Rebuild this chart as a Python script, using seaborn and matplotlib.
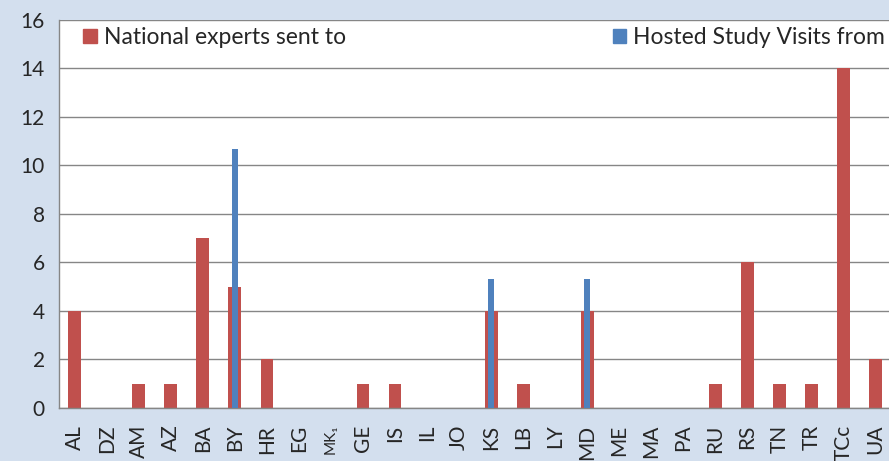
import matplotlib
matplotlib.use("Agg")
import matplotlib.pyplot as plt
import numpy as np
import pandas as pd
import seaborn as sns
from matplotlib.patches import Patch

# ---------------------------------------------------------------------------
# 데이터
# ---------------------------------------------------------------------------

countries = ["AL", "DZ", "AM", "AZ", "BA", "BY", "HR", "EG", "MK\u2081", "GE",
             "IS", "IL", "JO", "KS", "LB", "LY", "MD", "ME", "MA", "PA",
             "RU", "RS", "TN", "TR", "TCc", "UA"]
experts_sent = [4, 0, 1, 1, 7, 5, 2, 0, 0, 1,
                1, 0, 0, 4, 1, 0, 4, 0, 0, 0,
                1, 6, 1, 1, 14, 2]
visits_hosted = [0, 0, 0, 0, 0, 10.67, 0, 0, 0, 0,
                 0, 0, 0, 5.33, 0, 0, 5.33, 0, 0, 0,
                 0, 0, 0, 0, 0, 0]

RED = "#C0504D"
BLUE = "#4F81BD"
BG = "#D3DFEE"
GRID = "#868686"
FS = 15
LEG_FS = 16.5

df = pd.DataFrame({"country": countries, "experts": experts_sent, "visits": visits_hosted})

sns.set_style("white")
plt.rcParams["font.family"] = ["Lato", "DejaVu Sans"]

fig = plt.figure(figsize=(8.89, 4.61), dpi=100, facecolor=BG)
ax = fig.add_axes([0.066, 0.115, 0.937, 0.842])
ax.set_facecolor("white")

sns.barplot(data=df, x="country", y="experts", color=RED, width=0.4,
            saturation=1, linewidth=0, ax=ax, zorder=2)
sns.barplot(data=df, x="country", y="visits", color=BLUE, width=0.19,
            saturation=1, linewidth=0, ax=ax, zorder=3)

ax.set_ylim(0, 16)
ax.set_xlim(-0.5, len(countries) - 0.5)
ax.set_yticks(np.arange(0, 17, 2))
ax.yaxis.grid(True, color=GRID, linewidth=1.0, zorder=0)
ax.set_axisbelow(True)
ax.set_xlabel("")
ax.set_ylabel("")

for side in ["top", "right"]:
    ax.spines[side].set_visible(False)
for side in ["left", "bottom"]:
    ax.spines[side].set_color(GRID)
    ax.spines[side].set_linewidth(1.0)

ax.tick_params(axis="y", labelsize=FS, length=6, color=GRID, direction="out", pad=4)
ax.tick_params(axis="x", which="major", length=0, labelsize=FS, pad=12)
ax.set_xticks(np.arange(-0.5, len(countries), 1), minor=True)
ax.tick_params(axis="x", which="minor", length=6, color=GRID, direction="out")
ax.set_xticklabels(countries, rotation=90)
for lbl in ax.get_xticklabels():
    if lbl.get_text().startswith("MK"):
        lbl.set_fontsize(11)

leg1 = ax.legend(handles=[Patch(color=RED, label="National experts sent to")],
                 loc="upper left", bbox_to_anchor=(0.005, 1.035), frameon=False,
                 fontsize=LEG_FS, handlelength=0.6, handleheight=0.6, handletextpad=0.3)
ax.add_artist(leg1)
ax.legend(handles=[Patch(color=BLUE, label="Hosted Study Visits from")],
          loc="upper right", bbox_to_anchor=(1.017, 1.035), frameon=False,
          fontsize=LEG_FS, handlelength=0.6, handleheight=0.6, handletextpad=0.3)

fig.savefig("out.png", dpi=100, facecolor=BG)
